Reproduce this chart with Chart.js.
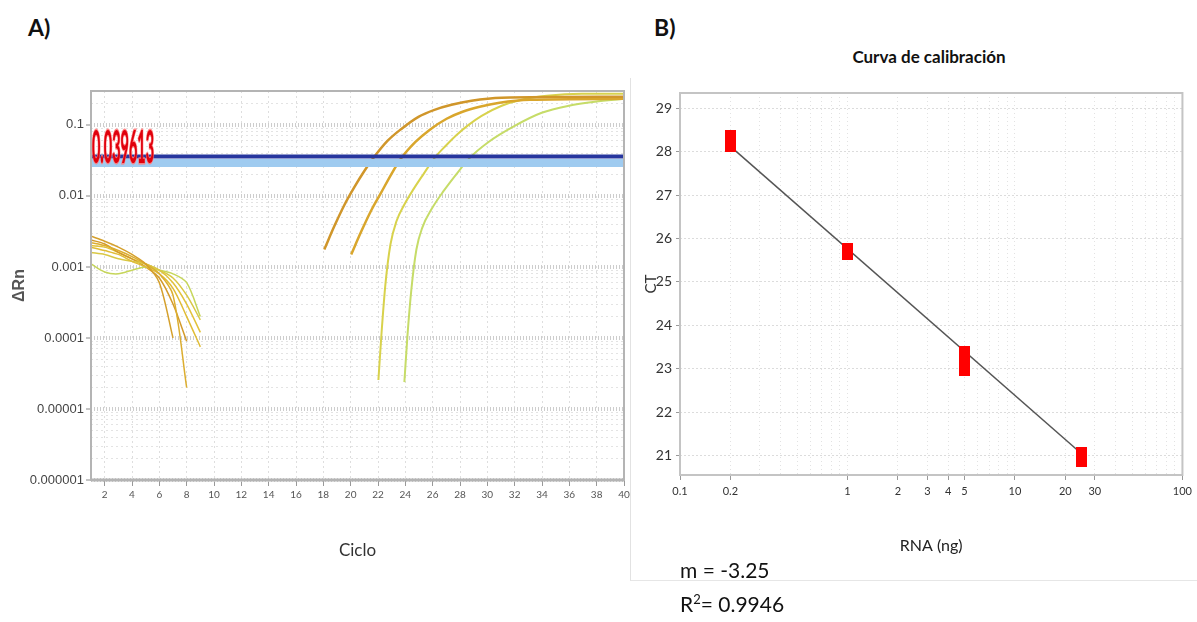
<!DOCTYPE html>
<html>
<head>
<meta charset="utf-8">
<script src="https://cdn.jsdelivr.net/npm/chart.js@4.4.1/dist/chart.umd.min.js"></script>
<style>
  body { margin: 0; width: 1197px; height: 622px; background: #fff; position: relative; overflow: hidden;
         font-family: 'Lato', 'Roboto', sans-serif; }
  .lbl { position: absolute; color: #111; white-space: nowrap; line-height: 1; }
  #chartA { position: absolute; left: 0; top: 80px; }
  #chartB { position: absolute; left: 632px; top: 80px; }
  #boxB { position: absolute; left: 630px; top: 78px; width: 566px; height: 502px;
          border-left: 1px solid #e2e2e2; border-bottom: 1px solid #e6e6e6; }
</style>
</head>
<body>
<div id="boxB"></div>
<div class="lbl" style="left:28px; top:16px; font-size:23px; font-weight:bold;">A)</div>
<div class="lbl" style="left:654px; top:16px; font-size:23px; font-weight:bold;">B)</div>
<div class="lbl" style="left:829px; top:48px; width:200px; text-align:center; font-size:17px; font-weight:bold;">Curva de calibración</div>
<canvas id="chartA" width="640" height="500"></canvas>
<canvas id="chartB" width="565" height="500"></canvas>
<div class="lbl" style="left:680px; top:559px; font-size:21px;">m = -3.25</div>
<div class="lbl" style="left:680px; top:593px; font-size:21px;">R<sup style="font-size:13px;">2</sup>= 0.9946</div>

<script>
// ---------- panel A: amplification plot ----------
const cycleTicks = [2, 4, 6, 8, 10, 12, 14, 16, 18, 20, 22, 24, 26, 28, 30, 32, 34, 36, 38, 40];
const rnTickLabels = ['0.000001', '0.00001', '0.0001', '0.001', '0.01', '0.1'];
const threshold = 0.036;
const thresholdBand = 0.029;
const thresholdLabel = '0.039613';

// background curves before amplification (cycles 1-9)
const noiseCycles = [1, 2, 3, 4, 5, 6, 7, 8, 9];
const noise1 = [0.0027, 0.0023, 0.0019, 0.0015, 0.0011, 0.0006, 0.0001, null, null];
const noise2 = [0.0022, 0.0020, 0.0017, 0.0014, 0.0011, 0.0008, 0.0004, 0.00002, null];
const noise3 = [0.0019, 0.0017, 0.0015, 0.0012, 0.0010, 0.0008, 0.0005, 0.0002, 0.000075];
const noise4 = [0.0016, 0.0015, 0.0013, 0.0012, 0.0011, 0.0009, 0.0007, 0.0004, 0.00018];
const noise5 = [0.0011, 0.00085, 0.0008, 0.0009, 0.0010, 0.0009, 0.0008, 0.0006, 0.0002];
const noise6 = [0.0024, 0.0021, 0.0016, 0.0013, 0.0010, 0.0007, 0.0003, 0.00009, null];
const noise7 = [0.0020, 0.0019, 0.0016, 0.0013, 0.0011, 0.0009, 0.0006, 0.0003, 0.00012];

// amplification curves, one per dilution
const amp1Cycles = [18.07, 18.8, 19.53, 20.27, 21.0, 21.66, 22.69, 23.71, 24.96, 26.13, 27.38, 28.84, 31.05, 40];
const amp1 = [0.00176, 0.00373, 0.0074, 0.0133, 0.0224, 0.0341, 0.0594, 0.0878, 0.130, 0.163, 0.192, 0.219, 0.241, 0.249];
const amp2Cycles = [20.04, 20.78, 21.51, 22.25, 22.98, 23.71, 24.74, 25.77, 27.02, 28.19, 29.44, 30.9, 33.1, 40];
const amp2 = [0.0015, 0.00317, 0.00628, 0.0113, 0.0203, 0.0341, 0.0575, 0.085, 0.122, 0.153, 0.180, 0.205, 0.226, 0.233];
const amp3Cycles = [22.03, 22.25, 22.54, 22.91, 23.35, 23.94, 24.6, 25.33, 26.13, 26.94, 27.75, 28.63, 29.58, 31.05, 32.51, 34.35, 36.92, 40];
const amp3 = [0.0000256, 0.000111, 0.000564, 0.00207, 0.00439, 0.00763, 0.01245, 0.0203, 0.0341, 0.0505, 0.0722, 0.1, 0.134, 0.186, 0.226, 0.257, 0.274, 0.274];
const amp4Cycles = [23.93, 24.15, 24.44, 24.81, 25.25, 25.91, 26.79, 27.74, 28.7, 30.09, 32.0, 33.98, 35.96, 37.87, 40];
const amp4 = [0.0000239, 0.000104, 0.000479, 0.00176, 0.00361, 0.00648, 0.01165, 0.0203, 0.0341, 0.0575, 0.0968, 0.148, 0.186, 0.212, 0.233];

// ---------- panel B: calibration curve ----------
const rnaNg = [0.2, 1, 5, 25];
const ctValues = [28.25, 25.71, 23.18, 20.97];
const fitNg = [0.2, 25];
const fitCt = [28.12, 21.04];
const ctTicks = [21, 22, 23, 24, 25, 26, 27, 28, 29];
const rnaTickLabels = [0.1, 0.2, 1, 2, 3, 4, 5, 10, 20, 30, 100];

const narrow = "'Lato', 'Roboto', sans-serif";

function pts(xs, ys) {
  return xs.map((x, i) => ({ x: x, y: ys[i] }));
}
function isDecade(v) {
  const l = Math.log10(v);
  return Math.abs(l - Math.round(l)) < 1e-6;
}
function rnaLabel(v) {
  return rnaTickLabels.find(l => Math.abs(l - v) / l < 1e-6);
}

const framePlugin = {
  id: 'frame',
  afterDatasetsDraw(chart, args, opts) {
    const { ctx, chartArea: a } = chart;
    ctx.save();
    ctx.strokeStyle = opts.color;
    ctx.lineWidth = opts.width;
    ctx.strokeRect(a.left, a.top, a.right - a.left, a.bottom - a.top);
    ctx.lineWidth = opts.bottomWidth;
    ctx.beginPath();
    ctx.moveTo(a.left, a.bottom);
    ctx.lineTo(a.right, a.bottom);
    ctx.stroke();
    ctx.restore();
  }
};

const thresholdLabelPlugin = {
  id: 'thrLabel',
  afterDatasetsDraw(chart) {
    const { ctx, chartArea: a, scales } = chart;
    const yPx = scales.y.getPixelForValue(threshold);
    ctx.save();
    ctx.font = 'bold 16px ' + narrow;
    const w = ctx.measureText(thresholdLabel).width;
    ctx.translate(a.left + 1, yPx + 7);
    ctx.scale(62 / w, 2.9);
    ctx.lineWidth = 1;
    ctx.strokeStyle = 'rgba(255,120,120,0.9)';
    ctx.strokeText(thresholdLabel, 0, 0);
    ctx.fillStyle = '#e0000c';
    ctx.fillText(thresholdLabel, 0, 0);
    ctx.restore();
  }
};

function noiseSet(values, color) {
  return {
    data: pts(noiseCycles, values), showLine: true, borderColor: color, borderWidth: 1.5,
    pointRadius: 0, tension: 0.3, spanGaps: false
  };
}
function ampSet(xs, ys, color, width) {
  return {
    data: pts(xs, ys), showLine: true, borderColor: color, borderWidth: width,
    pointRadius: 0, cubicInterpolationMode: 'monotone'
  };
}

new Chart(document.getElementById('chartA'), {
  type: 'scatter',
  data: {
    datasets: [
      { data: pts([1, 40], [threshold, threshold]), showLine: true, borderColor: '#27369e', borderWidth: 4, pointRadius: 0 },
      { data: pts([1, 40], [thresholdBand, thresholdBand]), showLine: true, borderColor: '#9fcbf0', borderWidth: 8, pointRadius: 0 },
      ampSet(amp1Cycles, amp1, '#d0962a', 2.5),
      ampSet(amp2Cycles, amp2, '#d9a62c', 2.5),
      ampSet(amp3Cycles, amp3, '#d8d24c', 2),
      ampSet(amp4Cycles, amp4, '#c6dc68', 2),
      noiseSet(noise1, '#d5a02c'),
      noiseSet(noise2, '#dcae30'),
      noiseSet(noise3, '#e0bc36'),
      noiseSet(noise4, '#d9c845'),
      noiseSet(noise5, '#c6d65a'),
      noiseSet(noise6, '#d39a2a'),
      noiseSet(noise7, '#e2c23a')
    ]
  },
  options: {
    responsive: false,
    animation: false,
    layout: { padding: { top: 11, right: 16, left: 0, bottom: 0 } },
    plugins: {
      legend: { display: false },
      tooltip: { enabled: false },
      frame: { color: '#b4b4b4', width: 2, bottomWidth: 3 }
    },
    scales: {
      x: {
        type: 'linear', min: 1, max: 40,
        afterBuildTicks: s => { s.ticks = cycleTicks.map(v => ({ value: v })); },
        afterFit: s => { s.height = 100; },
        ticks: { autoSkip: false, maxRotation: 0, padding: 3, color: '#555', font: { size: 10, family: narrow } },
        grid: { color: '#dedede', lineWidth: 1, tickLength: 6, tickColor: '#999' },
        border: { display: false, dash: [2, 3] },
        title: { display: true, text: 'Ciclo', color: '#333', font: { size: 17, family: narrow }, padding: { top: 0, bottom: 19 } }
      },
      y: {
        type: 'logarithmic', min: 0.000001, max: 0.3,
        afterBuildTicks: s => {
          const t = [];
          for (let e = -6; e <= -1; e++) {
            for (let m = 1; m <= 9; m++) {
              const v = m * Math.pow(10, e);
              if (v <= 0.3) t.push({ value: v });
            }
          }
          s.ticks = t;
        },
        afterFit: s => { s.width = 91; },
        ticks: {
          autoSkip: false, padding: 2, color: '#444', font: { size: 13, family: 'Liberation Sans, sans-serif' },
          callback: v => isDecade(v) ? rnTickLabels[Math.round(Math.log10(v)) + 6] : ''
        },
        grid: {
          color: c => c.tick && isDecade(c.tick.value) ? '#cdcdcd' : '#e3e3e3',
          lineWidth: c => c.tick && isDecade(c.tick.value) ? 4 : 1,
          tickLength: 5, tickWidth: 1,
          tickColor: c => c.tick && isDecade(c.tick.value) ? '#888' : 'rgba(0,0,0,0)'
        },
        border: { display: false, dash: c => c.tick && isDecade(c.tick.value) ? [1, 2] : [2, 3] },
        title: { display: true, text: 'ΔRn', color: '#555', font: { size: 16, weight: 'bold', family: 'Liberation Sans, sans-serif' }, padding: { top: 10, bottom: 0 } }
      }
    }
  },
  plugins: [framePlugin, thresholdLabelPlugin]
});

// red rectangular markers, taller where replicates spread more
function makeMarker(h) {
  const c = document.createElement('canvas');
  c.width = 11;
  c.height = h;
  const g = c.getContext('2d');
  g.fillStyle = '#ff0000';
  g.fillRect(0, 0, 11, h);
  return c;
}
const markerHeights = [22, 17, 30, 20];
const markers = markerHeights.map(makeMarker);

new Chart(document.getElementById('chartB'), {
  type: 'scatter',
  data: {
    datasets: [
      { data: pts(rnaNg, ctValues), pointStyle: c => markers[c.dataIndex], pointRadius: 5, showLine: false },
      { data: pts(fitNg, fitCt), showLine: true, borderColor: '#555', borderWidth: 1.5, pointRadius: 0 }
    ]
  },
  options: {
    responsive: false,
    animation: false,
    layout: { padding: { top: 13, right: 11, left: 0, bottom: 0 } },
    plugins: {
      legend: { display: false },
      tooltip: { enabled: false },
      frame: { color: '#c4c4c4', width: 2, bottomWidth: 2 }
    },
    scales: {
      x: {
        type: 'logarithmic', min: 0.1, max: 100,
        afterBuildTicks: s => {
          const t = [];
          for (let e = -1; e <= 1; e++) {
            for (let m = 1; m <= 9; m++) t.push({ value: m * Math.pow(10, e) });
          }
          t.push({ value: 100 });
          s.ticks = t;
        },
        afterFit: s => { s.height = 105; },
        ticks: {
          autoSkip: false, maxRotation: 0, padding: 5, color: '#333', font: { size: 11, family: narrow },
          callback: v => rnaLabel(v) !== undefined ? String(rnaLabel(v)) : ''
        },
        grid: {
          color: '#e2e2e2', tickLength: 5,
          tickColor: c => c.tick && rnaLabel(c.tick.value) !== undefined ? '#999' : 'rgba(0,0,0,0)'
        },
        border: { display: false, dash: [1, 3] },
        title: { display: true, text: 'RNA (ng)', color: '#222', font: { size: 16, family: narrow }, padding: { top: 0, bottom: 25 } }
      },
      y: {
        type: 'linear', min: 20.55, max: 29.35,
        afterBuildTicks: s => { s.ticks = ctTicks.map(v => ({ value: v })); },
        afterFit: s => { s.width = 48; },
        ticks: { padding: 4, color: '#333', font: { size: 14, family: narrow } },
        grid: { color: '#dcdcdc', tickLength: 4, tickColor: '#999' },
        border: { display: false, dash: [2, 2] },
        title: { display: true, text: 'CT', color: '#333', font: { size: 15, family: narrow }, padding: { top: 10, bottom: 0 } }
      }
    }
  },
  plugins: [framePlugin]
});
</script>
</body>
</html>
